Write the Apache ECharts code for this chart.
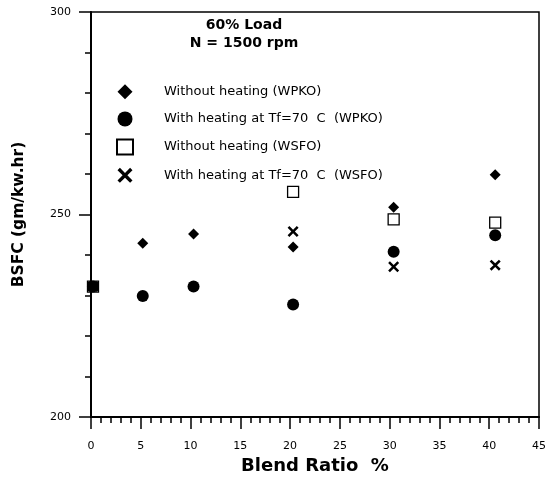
<!DOCTYPE html>
<html>
<head>
<meta charset="utf-8">
<script src="https://cdn.jsdelivr.net/npm/echarts@6/dist/echarts.min.js"></script>
<style>
html,body{margin:0;padding:0;background:#fff;}
#chart{width:549px;height:480px;}
</style>
</head>
<body>
<div id="chart"></div>
<script>
// ---- data ----
const seriesNames = [
  'Without heating (WPKO)',
  'With heating at Tf=70  C  (WPKO)',
  'Without heating (WSFO)',
  'With heating at Tf=70  C  (WSFO)'
];
const xWPKO = [0.2, 5.2, 10.3, 20.3, 30.4, 40.6];
const bsfcWPKONoHeat = [232.2, 242.9, 245.2, 242.0, 251.8, 259.8];
const bsfcWPKOHeat   = [232.2, 229.9, 232.2, 227.8, 240.8, 244.9];
const xWSFO = [0.2, 20.3, 30.4, 40.6];
const bsfcWSFONoHeat = [232.2, 255.6, 248.8, 248.0];
const bsfcWSFOHeat   = [232.2, 245.8, 237.1, 237.5];
const xTicks = [0, 5, 10, 15, 20, 25, 30, 35, 40, 45];
const yTicks = [200, 250, 300];
const titleLines = ['60% Load', 'N = 1500 rpm'];

function pairs(xs, ys) { return xs.map((x, i) => [x, ys[i]]); }

const FONT = 'DejaVu Sans';
const xSymbol = 'path://M0,1.6 L1.6,0 L5,3.4 L8.4,0 L10,1.6 L6.6,5 L10,8.4 L8.4,10 L5,6.6 L1.6,10 L0,8.4 L3.4,5 Z';
const diamondSymbol = 'path://M5,0 L10,5 L5,10 L0,5 Z';

const chart = echarts.init(document.getElementById('chart'), null, {renderer: 'canvas'});
chart.setOption({
  animation: false,
  backgroundColor: '#fff',
  title: {
    text: titleLines.join('\n'),
    left: 239, top: 11,
    textAlign: 'center',
    textStyle: {fontFamily: FONT, fontWeight: 'bold', fontSize: 14, lineHeight: 18, color: '#000'}
  },
  legend: {
    orient: 'vertical',
    left: 116, top: 84.2, padding: 0,
    itemWidth: 16, itemHeight: 15, itemGap: 12.2,
    data: seriesNames,
    textStyle: {fontFamily: FONT, fontSize: 13, color: '#000', lineHeight: 15, padding: [0, 0, 0, 26]}
  },
  grid: {left: 91, right: 7, top: 12, bottom: 63, show: true, borderColor: '#000', borderWidth: 1.5},
  xAxis: {
    type: 'value', min: 0, max: 45, interval: 5,
    name: 'Blend Ratio  %', nameLocation: 'middle', nameGap: 35,
    nameTextStyle: {fontFamily: FONT, fontWeight: 'bold', fontSize: 18, color: '#000'},
    axisLine: {show: true, lineStyle: {color: '#000', width: 2}},
    axisTick: {show: true, inside: false, length: 12, lineStyle: {color: '#000', width: 1.5}},
    minorTick: {show: true, splitNumber: 5, length: 6, lineStyle: {color: '#000', width: 1.5}},
    axisLabel: {margin: 24, fontFamily: FONT, fontSize: 11, color: '#000',
      formatter: v => xTicks.includes(v) ? String(v) : ''},
    splitLine: {show: false}
  },
  yAxis: {
    type: 'value', min: 200, max: 300, interval: 50,
    name: 'BSFC (gm/kw.hr)', nameLocation: 'middle', nameGap: 64,
    nameTextStyle: {fontFamily: FONT, fontWeight: 'bold', fontSize: 15.5, color: '#000'},
    axisLine: {show: true, lineStyle: {color: '#000', width: 2}},
    axisTick: {show: true, inside: false, length: 12, lineStyle: {color: '#000', width: 1.5}},
    minorTick: {show: true, splitNumber: 5, length: 6, lineStyle: {color: '#000', width: 1.5}},
    axisLabel: {margin: 20, fontFamily: FONT, fontSize: 11, color: '#000',
      formatter: v => yTicks.includes(v) ? String(v) : ''},
    splitLine: {show: false}
  },
  series: [
    {
      name: seriesNames[0], type: 'scatter', symbol: diamondSymbol, symbolSize: 11, z: 3,
      itemStyle: {color: '#000', opacity: 1},
      data: pairs(xWPKO, bsfcWPKONoHeat)
    },
    {
      name: seriesNames[1], type: 'scatter', symbol: 'circle', symbolSize: 12, z: 2,
      itemStyle: {color: '#000', opacity: 1},
      data: pairs(xWPKO, bsfcWPKOHeat)
    },
    {
      name: seriesNames[2], type: 'scatter', symbol: 'rect', symbolSize: 11, z: 5,
      itemStyle: {color: 'rgba(255,255,255,0)', borderColor: '#000', borderWidth: 1.3, opacity: 1},
      data: pairs(xWSFO, bsfcWSFONoHeat)
    },
    {
      name: seriesNames[3], type: 'scatter', symbol: xSymbol, symbolSize: 11, z: 4,
      itemStyle: {color: '#000', opacity: 1},
      data: pairs(xWSFO, bsfcWSFOHeat)
    }
  ]
});
</script>
</body>
</html>
